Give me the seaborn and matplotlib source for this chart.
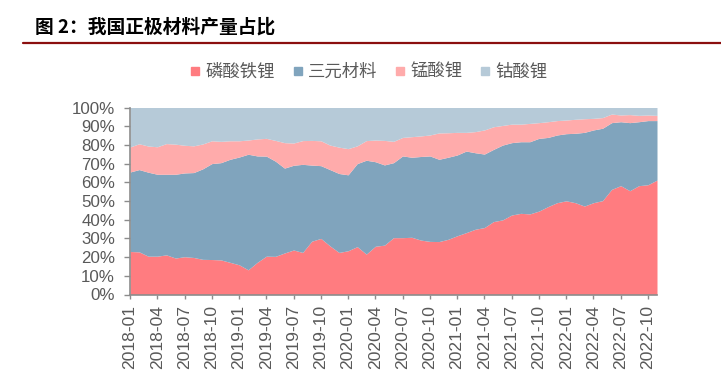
import numpy as np
import pandas as pd
import matplotlib
matplotlib.use("Agg")
import matplotlib.pyplot as plt
from matplotlib.lines import Line2D
import seaborn as sns

# ---------------- data (shares, %) ----------------
months = pd.date_range("2018-01-01", "2022-11-01", freq="MS").strftime("%Y-%m").tolist()

lfp = [23.0, 22.8, 20.5, 20.5, 21.2, 19.5, 20.2, 19.8, 18.8, 18.7,
       18.5, 17.2, 15.9, 13.2, 17.2, 20.5, 20.4, 22.2, 23.8, 22.5,
       28.5, 30.0, 26.0, 22.5, 23.4, 25.6, 21.6, 25.8, 26.4, 30.4,
       30.4, 30.6, 29.1, 28.4, 28.3, 29.5, 31.4, 33.1, 34.9, 35.8,
       39.0, 39.9, 42.5, 43.4, 43.1, 44.6, 47.0, 49.1, 50.1, 49.1,
       47.3, 49.1, 50.2, 56.2, 58.2, 55.5, 58.2, 58.7, 61.2]

ternary = [42.5, 44.0, 44.9, 43.8, 43.1, 44.8, 44.8, 45.4, 48.4, 51.3,
           52.0, 55.1, 57.6, 61.8, 56.9, 53.5, 50.9, 45.4, 45.3, 47.1,
           40.7, 38.9, 40.8, 42.2, 40.6, 44.4, 50.2, 45.2, 42.9, 40.1,
           43.7, 42.8, 44.7, 45.7, 44.0, 43.9, 43.2, 43.6, 40.9, 39.3,
           38.6, 40.0, 38.7, 38.3, 38.6, 38.9, 37.0, 36.2, 35.9, 37.1,
           39.4, 38.9, 38.7, 35.7, 34.2, 36.4, 34.2, 34.3, 31.8]

lmo = [13.4, 13.8, 14.0, 14.7, 16.4, 16.1, 14.8, 14.3, 13.3, 12.2,
       11.4, 9.9, 8.7, 7.6, 9.1, 9.5, 11.1, 13.6, 11.9, 12.7,
       13.2, 13.3, 13.1, 14.1, 14.0, 9.5, 10.5, 11.6, 13.1, 11.4,
       9.9, 11.0, 11.0, 11.2, 14.1, 13.1, 12.1, 10.0, 11.3, 12.9,
       12.1, 10.5, 9.9, 9.4, 9.8, 8.4, 8.4, 7.7, 7.3, 7.5,
       7.3, 6.2, 5.7, 4.6, 3.6, 4.3, 3.4, 3.0, 2.8]

lco = [21.1, 19.4, 20.6, 21.0, 19.3, 19.6, 20.2, 20.5, 19.5, 17.8,
       18.1, 17.8, 17.8, 17.4, 16.8, 16.5, 17.6, 18.8, 19.0, 17.7,
       17.6, 17.8, 20.1, 21.2, 22.0, 20.5, 17.7, 17.4, 17.6, 18.1,
       16.0, 15.6, 15.2, 14.7, 13.6, 13.5, 13.3, 13.3, 12.9, 12.0,
       10.3, 9.6, 8.9, 8.9, 8.5, 8.1, 7.6, 7.0, 6.7, 6.3,
       6.0, 5.8, 5.4, 3.5, 4.0, 3.8, 4.2, 4.0, 4.2]

series_names = ["磷酸铁锂", "三元材料", "锰酸锂", "钴酸锂"]
colors = ["#FF7C80", "#80A4BD", "#FFABAB", "#B6CAD8"]

df = pd.DataFrame({"month": months, series_names[0]: lfp, series_names[1]: ternary,
                   series_names[2]: lmo, series_names[3]: lco})
# normalise each month to 100 %
vals = df[series_names].to_numpy()
shares = vals / vals.sum(axis=1, keepdims=True) * 100

# ---------------- style ----------------
sns.set_theme(style="white")
plt.rcParams["font.family"] = ["Liberation Sans", "Noto Sans CJK SC", "DejaVu Sans"]
grey = "#595959"

W, H = 721, 383
fig = plt.figure(figsize=(W / 100, H / 100), dpi=100)
ax = fig.add_axes([130 / W, 1 - 294.5 / H, (657 - 130) / W, (294.5 - 107.5) / H])

x = np.arange(len(df))
ax.stackplot(x, shares.T, colors=colors, labels=series_names, linewidth=0)

ax.set_xlim(0, len(df) - 1)
ax.set_ylim(0, 100)
ax.set_yticks(np.arange(0, 101, 10))
ax.set_yticklabels([f"{v}%" for v in range(0, 101, 10)])
ax.set_xticks(x[::3])
ax.set_xticklabels(df["month"].iloc[::3], rotation=90)

ax.tick_params(axis="y", which="both", left=True, length=4.3, width=1, color="#8C8C8C",
               pad=6.5, labelsize=12.2, labelcolor=grey)
ax.tick_params(axis="x", which="both", bottom=True, length=3, width=1, color="#8C8C8C",
               pad=4.5, labelsize=12.6, labelcolor=grey)
sns.despine(ax=ax, top=True, right=True)
for sp in ["left", "bottom"]:
    ax.spines[sp].set_color("#8C8C8C")
    ax.spines[sp].set_linewidth(1.2)
ax.set_xlabel("")
ax.set_ylabel("")

# legend
handles = [Line2D([0], [0], marker="s", linestyle="none", markersize=6,
                  markerfacecolor=c, markeredgecolor=c) for c in colors]
leg = fig.legend(handles, series_names, loc="center", bbox_to_anchor=(369 / W, 1 - 72 / H),
                 ncol=4, frameon=False, handlelength=0.6, handletextpad=0.3,
                 columnspacing=1.0, borderaxespad=0,
                 prop={"family": ["Noto Sans CJK SC"], "size": 12.5})
for t in leg.get_texts():
    t.set_color(grey)

# title and rule line
fig.text(35 / W, 1 - 27 / H, "图 2：我国正极材料产量占比", ha="left", va="center",
         fontsize=13.5, fontweight="bold", color="black", family=["Noto Sans CJK SC"])
fig.add_artist(Line2D([23 / W, 1.0], [1 - 42.7 / H, 1 - 42.7 / H], transform=fig.transFigure,
                      color="#8B0F0F", linewidth=1.6))

fig.savefig("out.png", dpi=100)
